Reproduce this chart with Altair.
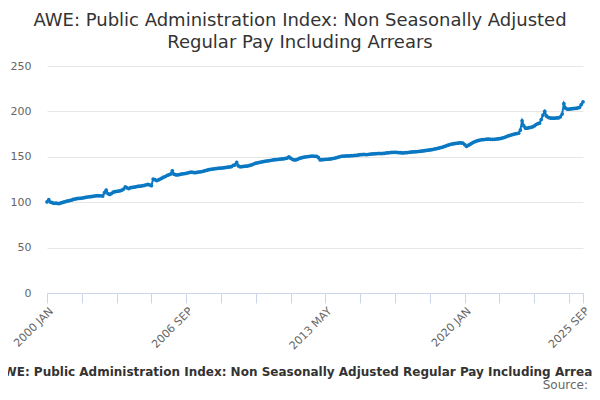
import altair as alt
import pandas as pd

# Monthly index values (2000 JAN .. 2025 SEP)
v2000 = [100.3, 102.8, 100.2, 99.4, 98.8, 98.9, 98.6, 98.5, 99.2, 99.8, 100.3, 100.9]
v2001 = [101.4, 101.8, 102.2, 103.0, 103.4, 103.9, 104.1, 104.3, 104.5, 104.8, 105.2, 105.6]
v2002 = [105.9, 106.1, 106.3, 106.8, 107.0, 107.2, 107.0, 107.1, 106.8, 110.5, 113.2, 109.5]
v2003 = [108.6, 109.5, 111.0, 111.6, 112.0, 112.3, 112.5, 113.2, 114.5, 116.8, 115.8, 115.0]
v2004 = [116.0, 116.3, 116.5, 117.0, 117.3, 117.6, 117.8, 118.2, 118.6, 119.2, 119.6, 119.0]
v2005 = [118.2, 125.5, 124.8, 123.8, 124.5, 125.5, 126.5, 127.5, 128.3, 129.5, 130.2, 131.0]
v2006 = [134.5, 130.8, 130.2, 130.0, 130.4, 130.8, 131.2, 131.5, 131.8, 132.3, 132.8, 133.2]
v2007 = [132.8, 132.5, 132.8, 133.2, 133.5, 133.8, 134.2, 134.8, 135.3, 135.8, 136.2, 136.5]
v2008 = [136.8, 137.0, 137.2, 137.4, 137.6, 137.8, 138.0, 138.3, 138.6, 138.9, 139.3, 140.5]
v2009 = [141.0, 143.8, 140.0, 139.0, 139.2, 139.4, 139.6, 139.8, 140.2, 140.8, 141.5, 142.3]
v2010 = [143.0, 143.4, 143.8, 144.2, 144.6, 145.0, 145.3, 145.6, 145.9, 146.2, 146.5, 146.8]
v2011 = [147.0, 147.2, 147.4, 147.6, 147.8, 148.2, 148.6, 150.0, 148.5, 147.2, 146.5, 146.6]
v2012 = [147.3, 148.2, 148.8, 149.3, 149.7, 150.0, 150.3, 150.6, 150.8, 150.8, 150.6, 150.5]
v2013 = [149.0, 146.5, 146.8, 147.0, 147.2, 147.3, 147.4, 147.6, 148.0, 148.4, 148.9, 149.5]
v2014 = [150.0, 150.5, 150.7, 150.8, 150.9, 151.0, 151.1, 151.2, 151.3, 151.5, 151.7, 152.0]
v2015 = [152.3, 152.5, 152.6, 152.4, 152.5, 152.8, 153.0, 153.2, 153.3, 153.4, 153.5, 153.7]
v2016 = [153.5, 153.7, 153.9, 154.2, 154.4, 154.6, 154.8, 154.9, 155.0, 154.9, 154.7, 154.5]
v2017 = [154.3, 154.4, 154.5, 154.7, 154.9, 155.1, 155.3, 155.5, 155.6, 155.8, 156.0, 156.2]
v2018 = [156.5, 156.8, 157.0, 157.3, 157.6, 157.9, 158.3, 158.7, 159.1, 159.5, 160.0, 160.5]
v2019 = [161.2, 161.8, 162.5, 163.2, 163.8, 164.2, 164.5, 164.8, 165.0, 165.3, 165.4, 165.0]
v2020 = [163.5, 161.5, 162.5, 163.6, 164.8, 166.0, 166.8, 167.5, 168.0, 168.5, 168.8, 169.0]
v2021 = [169.3, 169.5, 169.4, 169.3, 169.2, 169.3, 169.5, 169.7, 170.0, 170.4, 170.9, 171.4]
v2022 = [172.3, 173.0, 173.6, 174.2, 174.8, 175.3, 175.6, 176.0, 179.5, 189.6, 184.0, 181.5]
v2023 = [181.5, 182.0, 182.5, 183.0, 184.0, 185.5, 186.5, 187.0, 191.0, 196.0, 200.0, 195.0]
v2024 = [193.5, 192.8, 192.5, 192.5, 192.6, 192.8, 193.0, 194.0, 197.0, 208.5, 203.5, 202.5]
v2025 = [202.5, 202.8, 203.0, 203.2, 203.4, 203.8, 204.5, 207.5, 210.5]

years = list(range(2000, 2026))
yearly = [v2000, v2001, v2002, v2003, v2004, v2005, v2006, v2007, v2008, v2009,
          v2010, v2011, v2012, v2013, v2014, v2015, v2016, v2017, v2018, v2019,
          v2020, v2021, v2022, v2023, v2024, v2025]
months = ["JAN", "FEB", "MAR", "APR", "MAY", "JUN", "JUL", "AUG", "SEP", "OCT", "NOV", "DEC"]

labels, values = [], []
for y, vals in zip(years, yearly):
    for i, v in enumerate(vals):
        labels.append(f"{y} {months[i]}")
        values.append(v)

df = pd.DataFrame({"period": labels, "value": values})

tick_values = [labels[i] for i in range(0, len(labels), 20)] + [labels[-1]]
shown_labels = ["2000 JAN", "2006 SEP", "2013 MAY", "2020 JAN", "2025 SEP"]
label_expr = "indexof([" + ",".join(f"'{s}'" for s in shown_labels) + "], datum.value) >= 0 ? datum.value : ''"

title_lines = ["AWE: Public Administration Index: Non Seasonally Adjusted",
               "Regular Pay Including Arrears"]
footer_text = "AWE: Public Administration Index: Non Seasonally Adjusted Regular Pay Including Arrears"
source_text = "Source:"

FONT = "DejaVu Sans"
BLUE = "#0a78c2"

x_enc = alt.X("period:O", sort=labels, title=None,
              scale=alt.Scale(type="point", padding=0),
              axis=alt.Axis(values=tick_values, labelExpr=label_expr, labelAngle=-45,
                            labelAlign="right", labelBaseline="top", labelFontSize=11,
                            labelColor="#666666", labelFont=FONT, tickSize=10,
                            tickColor="#ccd6eb", domainColor="#ccd6eb", grid=False,
                            labelPadding=2, labelOverlap=False))
y_enc = alt.Y("value:Q", title=None,
              scale=alt.Scale(domain=[0, 250], nice=False),
              axis=alt.Axis(values=[0, 50, 100, 150, 200, 250], domain=False, ticks=False,
                            gridColor="#e6e6e6", labelFontSize=11, labelColor="#666666",
                            labelFont=FONT, labelPadding=16))

line = alt.Chart(df).mark_line(color=BLUE, strokeWidth=2).encode(x=x_enc, y=y_enc)
pts = alt.Chart(df).mark_circle(color=BLUE, size=14, opacity=1).encode(x=x_enc, y=y_enc)

footer = alt.Chart(pd.DataFrame({"t": [footer_text]})).mark_text(
    font=FONT, fontSize=12, fontWeight="bold", color="#333333", align="center",
    baseline="alphabetic").encode(text="t:N", x=alt.value(253), y=alt.value(310))
source = alt.Chart(pd.DataFrame({"t": [source_text]})).mark_text(
    font=FONT, fontSize=12, color="#666666", align="right",
    baseline="alphabetic").encode(text="t:N", x=alt.value(541), y=alt.value(323))

chart = alt.layer(line, pts, footer, source).properties(
    width=536, height=227,
    autosize=alt.AutoSizeParams(type="none"),
    padding={"left": 39, "top": 58, "right": 9, "bottom": 99},
    title=alt.Title(title_lines, font=FONT, fontSize=18, fontWeight="normal",
                    color="#333333", anchor="middle", dx=-15, offset=8, lineHeight=22),
).configure_view(stroke=None)

chart.save("out.html", embed_options={"renderer": "svg", "actions": False})
